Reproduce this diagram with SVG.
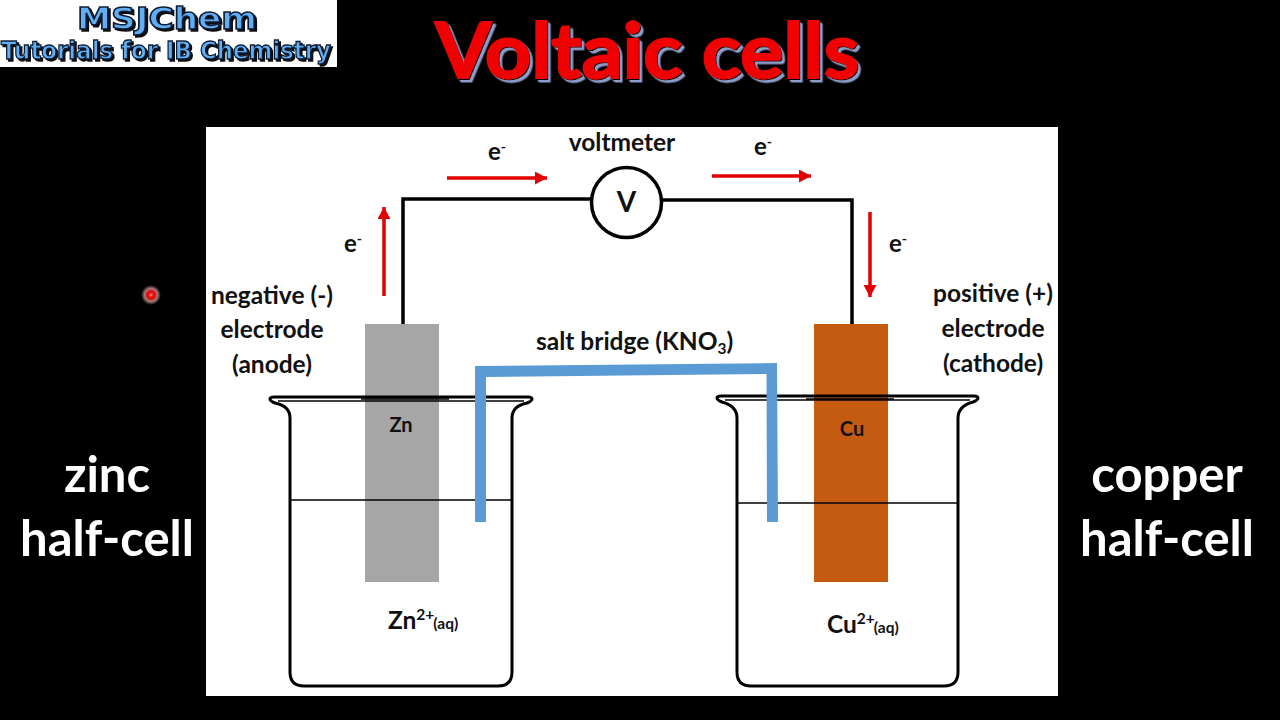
<svg xmlns="http://www.w3.org/2000/svg" width="1280" height="720" viewBox="0 0 1280 720">
<style>
text{font-family:"Lato","Open Sans","Liberation Sans",sans-serif;font-weight:700;fill:#111}
.m{text-anchor:middle}
.lab{font-size:24.500px}
.side{font-size:49px;fill:#fff;text-anchor:middle;font-weight:700}
.e{font-size:24px}
.sup{font-size:14px}
.small{font-size:15.500px}
.wire{fill:none;stroke:#000;stroke-width:3.500}
.glass{fill:none;stroke:#000;stroke-width:3}
.thin{fill:none;stroke:#000;stroke-width:1.500}
.red{fill:none;stroke:#e30000;stroke-width:3.500;marker-end:url(#ah)}
.bridge{fill:#5b9bd5}
.logo{font-family:"DejaVu Sans","Liberation Sans",sans-serif;font-weight:700;text-anchor:middle;fill:#62aef2;stroke:#0a1a33;filter:url(#logoShadow)}
.title{font-size:77px;font-weight:700;fill:#f00000;stroke:#f00000;stroke-width:1.800;filter:url(#titleShadow)}
</style>
<defs>
<marker id="ah" markerUnits="userSpaceOnUse" markerWidth="13" markerHeight="13" refX="12" refY="6.500" orient="auto"><path d="M0 0L12 6.500L0 13Z" fill="#e30000"/></marker>
<radialGradient id="dot"><stop offset="0" stop-color="#ff9090"/><stop offset="0.22" stop-color="#f01010"/><stop offset="0.45" stop-color="#d01818"/><stop offset="0.62" stop-color="#b08080"/><stop offset="1" stop-color="#000"/></radialGradient>
<filter id="titleShadow" x="-5%" y="-10%" width="110%" height="125%">
<feDropShadow dx="1" dy="1" stdDeviation="0.300" flood-color="#000" result="a"/>
<feDropShadow in="a" dx="2.500" dy="2.500" stdDeviation="0.300" flood-color="#8d9cc8"/>
</filter>
<filter id="logoShadow" x="-5%" y="-10%" width="110%" height="130%">
<feDropShadow dx="2" dy="2" stdDeviation="0.400" flood-color="#111"/>
</filter>
</defs>
<rect width="1280" height="720" fill="#000"/>
<rect x="206" y="127" width="852" height="569" fill="#fff"/>

<g id="logo">
<rect x="0" y="0" width="337" height="67" fill="#fff"/>
<text class="logo" x="167" y="29" font-size="30" stroke-width="1.500" textLength="180" lengthAdjust="spacingAndGlyphs">MSJChem</text>
<text class="logo" x="166" y="59" font-size="24" stroke-width="1.300" textLength="330" lengthAdjust="spacingAndGlyphs">Tutorials for IB Chemistry</text>
</g>

<g id="title">
<text class="m title" x="647" y="78" textLength="424" lengthAdjust="spacingAndGlyphs">Voltaic cells</text>
</g>

<g id="pointer"><circle cx="151" cy="295" r="10" fill="url(#dot)"/></g>

<g id="zinc-electrode"><rect x="365" y="324" width="74" height="258" fill="#a6a6a6"/><text class="m" x="401" y="432" font-size="20">Zn</text></g>
<g id="copper-electrode"><rect x="814" y="324" width="74" height="258" fill="#c55a11"/><text class="m" x="852" y="436" font-size="20">Cu</text></g>

<g id="zinc-beaker">
<path class="glass" d="M290 418V672Q290 686 304 686H498Q512 686 512 672V418Q512 406 527 403Q532 401 532 399Q532 397 528 397H274Q270 397 270 399Q270 401 275 403Q290 406 290 418Z"/>
<path class="thin" d="M278 401H524"/>
<path d="M361 399H449" stroke="#000" stroke-width="1.500"/>
<path class="thin" d="M290 500H512"/>
</g>
<g id="copper-beaker">
<path class="glass" d="M737 418V672Q737 686 751 686H944Q958 686 958 672V418Q958 406 973 402Q978 400 978 398Q978 396 974 396H721Q717 396 717 398Q717 400 722 402Q737 406 737 418Z"/>
<path class="thin" d="M725 400H970"/>
<path d="M806 399H894" stroke="#000" stroke-width="1.500"/>
<path class="thin" d="M737 503H958"/>
</g>

<g id="salt-bridge">
<path class="bridge" d="M475 366L777 363L778 522H767L766.500 374L486 377V522H475Z"/>
<text x="536" y="350" class="lab">salt bridge (KNO<tspan class="small" dy="4">3</tspan><tspan dy="-4">)</tspan></text>
</g>

<g id="voltmeter">
<circle cx="626.500" cy="202.500" r="35" fill="#fff" stroke="#000" stroke-width="3.500"/>
<text class="m" x="626.500" y="212" font-size="28">V</text>
<text class="m lab" x="622" y="151">voltmeter</text>
</g>

<g id="connectors">
<path class="wire" d="M403 324V199H591"/>
<path class="wire" d="M662 200H852V324"/>
<path class="red" d="M447 178H547"/>
<path class="red" d="M712 176H811"/>
<path class="red" d="M384 296V207"/>
<path class="red" d="M870 212V297"/>
</g>

<g id="electron-labels">
<text class="e" x="488" y="160">e<tspan class="sup" dy="-8">-</tspan></text>
<text class="e" x="754" y="155">e<tspan class="sup" dy="-8">-</tspan></text>
<text class="e" x="344" y="252">e<tspan class="sup" dy="-8">-</tspan></text>
<text class="e" x="889" y="252">e<tspan class="sup" dy="-8">-</tspan></text>
</g>

<g id="anode-label">
<text class="m lab" x="272" y="304">negative (-)</text>
<text class="m lab" x="272" y="338">electrode</text>
<text class="m lab" x="272" y="373">(anode)</text>
</g>
<g id="cathode-label">
<text class="m lab" x="993" y="302">positive (+)</text>
<text class="m lab" x="993" y="337">electrode</text>
<text class="m lab" x="993" y="372">(cathode)</text>
</g>

<g id="ions">
<text x="388" y="629" class="lab">Zn<tspan class="small" dy="-9">2+</tspan><tspan class="small" dy="9" dx="-1">(aq)</tspan></text>
<text x="827" y="633" class="lab">Cu<tspan class="small" dy="-9">2+</tspan><tspan class="small" dy="9" dx="-1">(aq)</tspan></text>
</g>

<g id="zinc-half-cell"><text class="side" x="107" y="492">zinc</text><text class="side" x="107" y="556">half-cell</text></g>
<g id="copper-half-cell"><text class="side" x="1167" y="492">copper</text><text class="side" x="1167" y="556">half-cell</text></g>
</svg>
